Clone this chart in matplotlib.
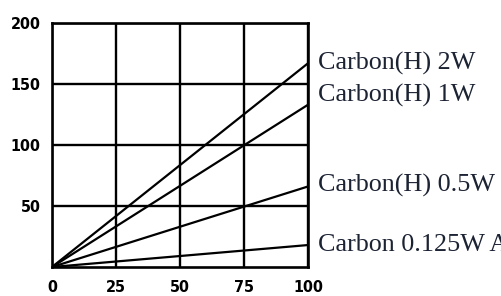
import matplotlib
matplotlib.use("Agg")
import matplotlib.pyplot as plt
import numpy as np

x_vals = [0, 100]
series_labels = ["Carbon(H) 2W", "Carbon(H) 1W", "Carbon(H) 0.5W", "Carbon 0.125W A"]
series_end = [167, 133, 66, 18]
label_y = [167, 141, 67, 18]
x_ticks = [0, 25, 50, 75, 100]
y_ticks = [50, 100, 150, 200]

fig = plt.figure(figsize=(5.02, 2.96), dpi=100)
ax = fig.add_axes([52/502, 1-267/296, 256/502, 244/296])
ax.set_xlim(0, 100)
ax.set_ylim(0, 200)

for end in series_end:
    ax.plot(x_vals, [0, end], color="black", lw=1.6, solid_capstyle="butt")

ax.set_xticks(x_ticks)
ax.set_yticks(y_ticks)
ax.grid(True, color="black", lw=1.7)
ax.set_axisbelow(True)
for s in ax.spines.values():
    s.set_linewidth(1.9)
ax.tick_params(length=0)
tick_font = dict(family="DejaVu Sans", weight="bold", size=11.5, stretch="condensed")
ax.set_xticklabels([str(t) for t in x_ticks], **tick_font)
ax.set_yticklabels([str(t) for t in y_ticks], **tick_font)
ax.tick_params(axis="y", pad=8.2)
ax.tick_params(axis="x", pad=9)

for lab, yv in zip(series_labels, label_y):
    ax.text(104, yv, lab, family="Liberation Serif", fontsize=18.8,
            color="#1c2333", va="center", ha="left", clip_on=False)

fig.savefig("out.png", dpi=100)
